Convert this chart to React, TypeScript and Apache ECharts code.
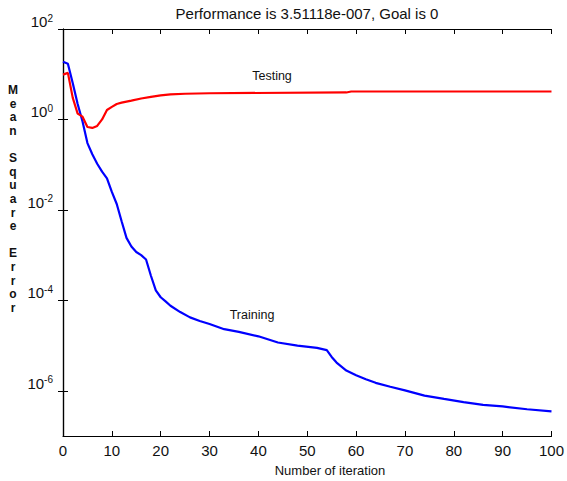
import React, { useEffect, useRef } from "react";
import * as echarts from "echarts";

const trainIter = [0, 1, 2, 3, 4, 5, 6, 7, 8, 9, 10, 11, 12, 13, 14, 15, 16, 17, 18, 19, 20, 21, 22, 24, 26, 28, 30, 33, 36, 40, 44, 48, 52, 54, 55, 56, 58, 60, 62, 64, 67, 70, 74, 78, 82, 86, 90, 95, 100];
const trainMse = [18.9, 17, 6.3, 2.2, 0.9, 0.3, 0.17, 0.105, 0.07, 0.05, 0.025, 0.0135, 0.0056, 0.0024, 0.00155, 0.00117, 0.001, 0.0008, 0.00035, 0.000166, 0.000117, 9.5e-5, 7.6e-5, 5.5e-5, 4.2e-5, 3.5e-5, 3.0e-5, 2.3e-5, 2.0e-5, 1.6e-5, 1.17e-5, 1.0e-5, 8.9e-6, 7.9e-6, 5.6e-6, 4.2e-6, 2.8e-6, 2.2e-6, 1.8e-6, 1.5e-6, 1.23e-6, 1.02e-6, 7.8e-7, 6.6e-7, 5.6e-7, 4.9e-7, 4.5e-7, 3.9e-7, 3.51118e-7];

const testIter = [0, 1, 2, 3, 4, 5, 6, 7, 8, 9, 10, 11, 12, 14, 16, 18, 20, 22, 25, 30, 58, 59, 100];
const testMse = [9.8, 10.7, 3.0, 1.35, 1.15, 0.68, 0.65, 0.72, 1.0, 1.62, 1.9, 2.2, 2.35, 2.6, 2.9, 3.15, 3.4, 3.6, 3.7, 3.8, 3.95, 4.15, 4.15];

const xTicks = [0, 10, 20, 30, 40, 50, 60, 70, 80, 90, 100];
const yTicks = [1e-6, 1e-4, 1e-2, 1, 1e2];

const titleText = "Performance is 3.51118e-007, Goal is 0";
const xName = "Number of iteration";
const yName = "Mean Square Error";

const NARROW = "'Liberation Sans Narrow', 'Arial Narrow', 'Liberation Sans', Arial, sans-serif";
const SANS = "'Liberation Sans', Arial, sans-serif";

export default function App() {
  const ref = useRef<HTMLDivElement>(null);
  useEffect(() => {
    if (!ref.current) return;
    const chart = echarts.init(ref.current, undefined, { renderer: "svg" });
    const expFmt = (v: number) => {
      const e = Math.round(Math.log10(v));
      return "{b|10}{s|" + e + "}";
    };
    const yLabel = {
      show: true,
      customValues: yTicks,
      formatter: expFmt,
      margin: 10,
      verticalAlign: "bottom",
      rich: {
        b: { fontFamily: NARROW, fontSize: 15, color: "#111", lineHeight: 16, verticalAlign: "bottom" },
        s: { fontFamily: NARROW, fontSize: 10, color: "#111", lineHeight: 16, verticalAlign: "top" },
      },
    };
    chart.setOption({
      animation: false,
      backgroundColor: "#ffffff",
      grid: { left: 63, right: 11, top: 29, bottom: 45 },
      xAxis: [
        {
          type: "value",
          min: 0,
          max: 100,
          interval: 10,
          position: "bottom",
          axisLine: { show: true, lineStyle: { color: "#000", width: 1.2 } },
          axisTick: { show: true, inside: true, length: 5, customValues: xTicks, lineStyle: { color: "#000" } },
          axisLabel: {
            show: true,
            margin: 7,
            fontFamily: NARROW,
            fontSize: 15,
            color: "#111",
          },
          splitLine: { show: false },
        },
        {
          type: "value",
          min: 0,
          max: 100,
          interval: 10,
          position: "top",
          axisLine: { show: true, lineStyle: { color: "#000", width: 1.2 } },
          axisTick: { show: true, inside: true, length: 5, lineStyle: { color: "#000" } },
          axisLabel: { show: false },
          splitLine: { show: false },
        },
      ],
      yAxis: [
        {
          type: "log",
          logBase: 10,
          min: 1e-7,
          max: 1e2,
          position: "left",
          axisLine: { show: true, lineStyle: { color: "#000", width: 1.2 } },
          axisTick: { show: true, inside: true, length: 5, customValues: yTicks, lineStyle: { color: "#000" } },
          axisLabel: yLabel,
          splitLine: { show: false },
          minorTick: { show: false },
        },
        {
          type: "log",
          logBase: 10,
          min: 1e-7,
          max: 1e2,
          position: "right",
          axisLine: { show: true, lineStyle: { color: "#000", width: 1.2 } },
          axisTick: { show: true, inside: true, length: 5, customValues: yTicks, lineStyle: { color: "#000" } },
          axisLabel: { show: false },
          splitLine: { show: false },
        },
      ],
      series: [
        {
          type: "line",
          name: "Training",
          xAxisIndex: 0,
          yAxisIndex: 0,
          showSymbol: false,
          symbol: "none",
          data: trainIter.map((x, i) => [x, trainMse[i]]),
          lineStyle: { color: "#0000ff", width: 2.2 },
          itemStyle: { color: "#0000ff" },
        },
        {
          type: "line",
          name: "Testing",
          xAxisIndex: 0,
          yAxisIndex: 0,
          showSymbol: false,
          symbol: "none",
          data: testIter.map((x, i) => [x, testMse[i]]),
          lineStyle: { color: "#ff0000", width: 2.2 },
          itemStyle: { color: "#ff0000" },
        },
      ],
      graphic: [
        {
          type: "text",
          x: 307,
          y: 13,
          style: { text: titleText, fontFamily: NARROW, fontSize: 15, fill: "#111", align: "center", verticalAlign: "middle" },
        },
        {
          type: "text",
          x: 330,
          y: 470,
          style: { text: xName, fontFamily: SANS, fontSize: 13, fill: "#111", align: "center", verticalAlign: "middle" },
        },
        {
          type: "text",
          x: 13,
          y: 199,
          style: {
            text: yName.split("").join("\n"),
            fontFamily: SANS,
            fontSize: 12,
            fontWeight: "bold",
            lineHeight: 13.6,
            fill: "#111",
            align: "center",
            verticalAlign: "middle",
          },
        },
        {
          type: "text",
          x: 272,
          y: 76,
          style: { text: "Testing", fontFamily: SANS, fontSize: 12.5, fill: "#111", align: "center", verticalAlign: "middle" },
        },
        {
          type: "text",
          x: 252,
          y: 315,
          style: { text: "Training", fontFamily: SANS, fontSize: 12.5, fill: "#111", align: "center", verticalAlign: "middle" },
        },
      ],
    });
    return () => chart.dispose();
  }, []);
  return <div ref={ref} style={{ position: "absolute", left: 0, top: 0, width: 567, height: 481 }} />;
}
